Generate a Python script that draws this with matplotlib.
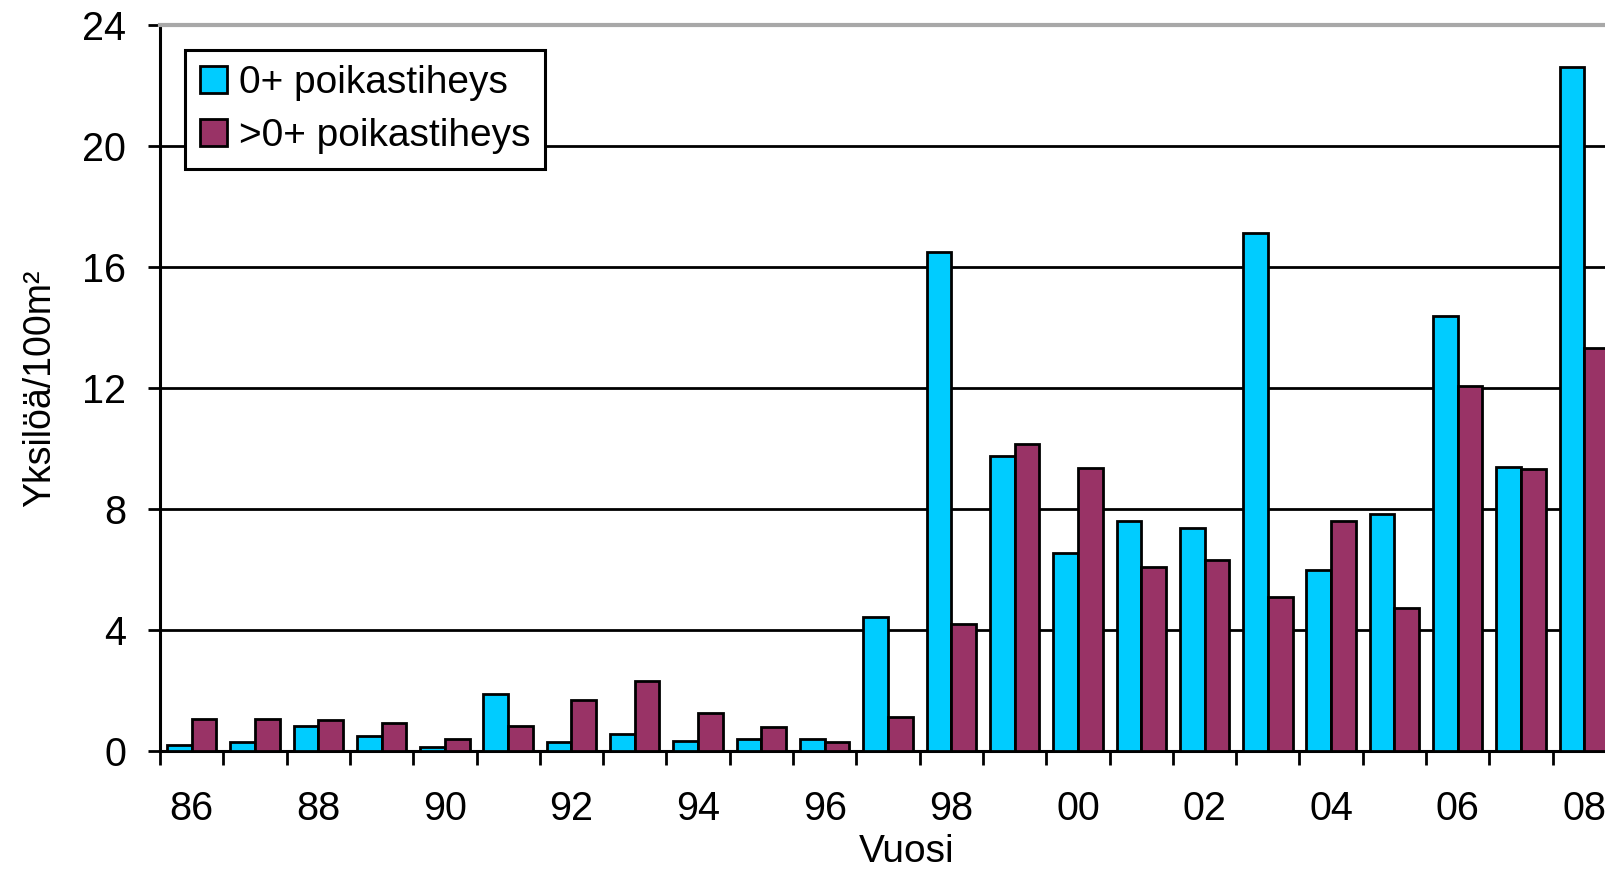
import numpy as np
import matplotlib
matplotlib.use('Agg')
import matplotlib.pyplot as plt

plt.rcParams['font.family'] = ['Liberation Sans', 'DejaVu Sans']

# data
years = ['86', '87', '88', '89', '90', '91', '92', '93', '94', '95', '96', '97',
         '98', '99', '00', '01', '02', '03', '04', '05', '06', '07', '08']
fry_0 = [0.2, 0.3, 0.83, 0.5, 0.13, 1.88, 0.3, 0.56, 0.33, 0.4, 0.4, 4.43,
         16.5, 9.75, 6.53, 7.6, 7.37, 17.13, 5.98, 7.83, 14.38, 9.39, 22.6]
fry_older = [1.05, 1.05, 1.02, 0.93, 0.4, 0.83, 1.69, 2.3, 1.26, 0.8, 0.3, 1.12,
             4.2, 10.15, 9.34, 6.08, 6.31, 5.1, 7.6, 4.73, 12.07, 9.32, 13.32]
labels = ['0+ poikastiheys', '>0+ poikastiheys']
yticks = [0, 4, 8, 12, 16, 20, 24]

W, H = 1606, 872
fig = plt.figure(figsize=(W / 100, H / 100), dpi=100)
# plot area runs a little past the right edge, as in the cropped original
ax = fig.add_axes([160 / W, (H - 751) / H, 1456 / W, 726 / H])

x = np.arange(len(years))
bw = 0.39
ax.bar(x - bw / 2, fry_0, bw, color='#00CCFF', edgecolor='black', linewidth=2,
       label=labels[0], zorder=3)
ax.bar(x + bw / 2, fry_older, bw, color='#993366', edgecolor='black', linewidth=2,
       label=labels[1], zorder=3)

ax.set_xlim(-0.5, len(years) - 0.5)
ax.set_ylim(0, 24)
ax.set_yticks(yticks)
ax.set_yticklabels([str(v) for v in yticks])
ax.yaxis.grid(True, color='black', linewidth=2.0)
ax.set_axisbelow(True)

# ticks on category boundaries, labels on every other category
ax.set_xticks(np.arange(len(years) + 1) - 0.5)
ax.set_xticklabels([])
ax.set_xticks(x[::2], minor=True)
ax.set_xticklabels(years[::2], minor=True)
ax.tick_params(axis='x', which='major', direction='out', length=10, width=2, color='black')
ax.tick_params(axis='x', which='minor', length=0, pad=28, labelsize=28.5)
ax.tick_params(axis='y', direction='out', length=8.5, width=2, pad=16, labelsize=28.5)

for s in ['left', 'bottom']:
    ax.spines[s].set_color('black')
    ax.spines[s].set_linewidth(2.2)
ax.spines['top'].set_color('#a8a8a8')
ax.spines['top'].set_linewidth(3)
ax.spines['right'].set_visible(False)

fig.text(40 / W, 1 - 388 / H, 'Yksilöä/100m²', rotation=90, ha='center', va='center',
         fontsize=27)
fig.text(907 / W, 1 - 834 / H, 'Vuosi', ha='center', va='top', fontsize=28)

leg = ax.legend(loc='upper left', bbox_to_anchor=(185 / W, 1 - 50 / H),
                bbox_transform=fig.transFigure, borderaxespad=0, fontsize=28,
                handlelength=0.7, handleheight=0.7, handletextpad=0.3,
                borderpad=0.38, labelspacing=0.45, fancybox=False, framealpha=1,
                edgecolor='black')
leg.get_frame().set_linewidth(2.2)
for h in leg.legend_handles:
    h.set_linewidth(2)

fig.savefig('out.png', dpi=100)
